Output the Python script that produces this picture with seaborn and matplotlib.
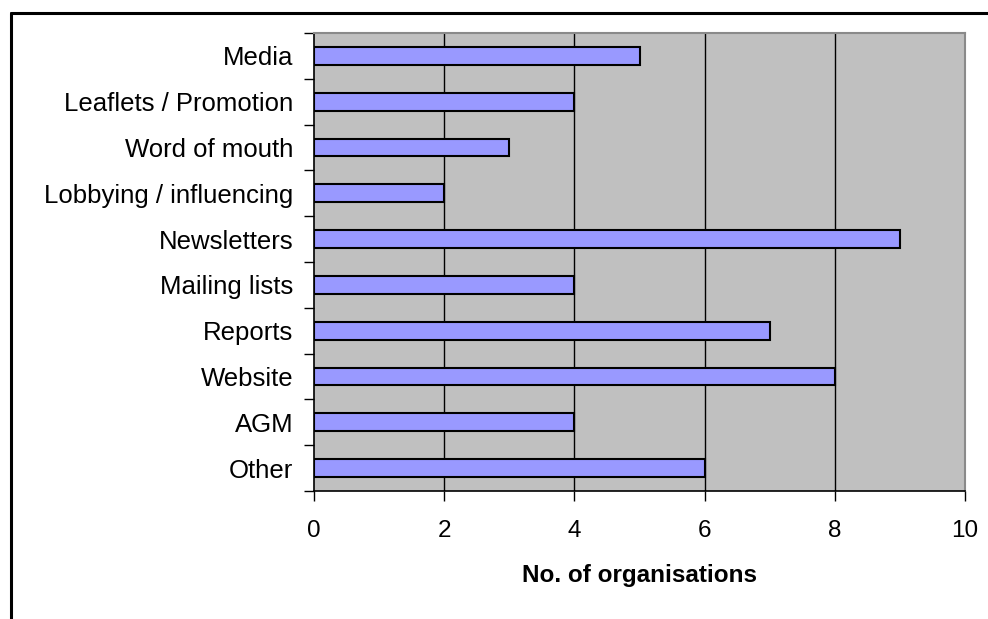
import matplotlib
matplotlib.use("Agg")
import matplotlib.pyplot as plt
import matplotlib.lines as mlines
import seaborn as sns
import pandas as pd

categories = ["Media", "Leaflets / Promotion", "Word of mouth", "Lobbying / influencing",
              "Newsletters", "Mailing lists", "Reports", "Website", "AGM", "Other"]
counts = [5, 4, 3, 2, 9, 4, 7, 8, 4, 6]
x_ticks = [0, 2, 4, 6, 8, 10]
x_label = "No. of organisations"

df = pd.DataFrame({"channel": categories, "count": counts})

sns.set_theme(style="white")
plt.rcParams["font.family"] = ["Liberation Sans", "DejaVu Sans"]

fig = plt.figure(figsize=(9.88, 6.19), dpi=100)
ax = fig.add_axes([314 / 988, 1 - 491 / 619, (965 - 314) / 988, (491 - 33) / 619])
ax.set_facecolor("#C0C0C0")

sns.barplot(data=df, x="count", y="channel", order=categories, orient="h",
            color="#9999FF", saturation=1, width=0.39, edgecolor="black",
            linewidth=1.5, ax=ax, zorder=3)

ax.set_xlim(0, 10)
ax.set_ylim(len(categories) - 0.5, -0.5)
ax.set_xticks(x_ticks)
ax.set_xticklabels([str(t) for t in x_ticks])
for t in x_ticks[1:-1]:
    ax.axvline(t, color="black", linewidth=1.0, zorder=1)

# category ticks sit on the boundaries between bars
ax.set_yticks([i - 0.5 for i in range(len(categories) + 1)], minor=False)
ax.set_yticklabels([])
ax.set_yticks(range(len(categories)), minor=True)
ax.set_yticklabels(categories, minor=True)
ax.tick_params(axis="y", which="major", left=True, length=7, width=1, color="black")
ax.tick_params(axis="y", which="minor", left=False, length=0, pad=15, labelsize=18.5, labelcolor="black")
ax.tick_params(axis="x", bottom=True, length=7, width=1, color="black", pad=14,
               labelsize=17.5, labelcolor="black")

ax.set_ylabel("")
ax.set_xlabel(x_label, fontsize=17.5, fontweight="bold", labelpad=16, color="black")

for side in ["left", "bottom"]:
    ax.spines[side].set_color("black")
    ax.spines[side].set_linewidth(1.2)
for side in ["top", "right"]:
    ax.spines[side].set_visible(True)
    ax.spines[side].set_color("#8A8A8A")
    ax.spines[side].set_linewidth(1.5)

# outer frame lines along the top and left edges
fig.add_artist(mlines.Line2D([10.5 / 988, 1], [1 - 12.5 / 619, 1 - 12.5 / 619],
                             transform=fig.transFigure, color="black", linewidth=2.2))
fig.add_artist(mlines.Line2D([10.5 / 988, 10.5 / 988], [0, 1 - 12.5 / 619],
                             transform=fig.transFigure, color="black", linewidth=2.2))

fig.savefig("out.png", dpi=100, facecolor="white")
